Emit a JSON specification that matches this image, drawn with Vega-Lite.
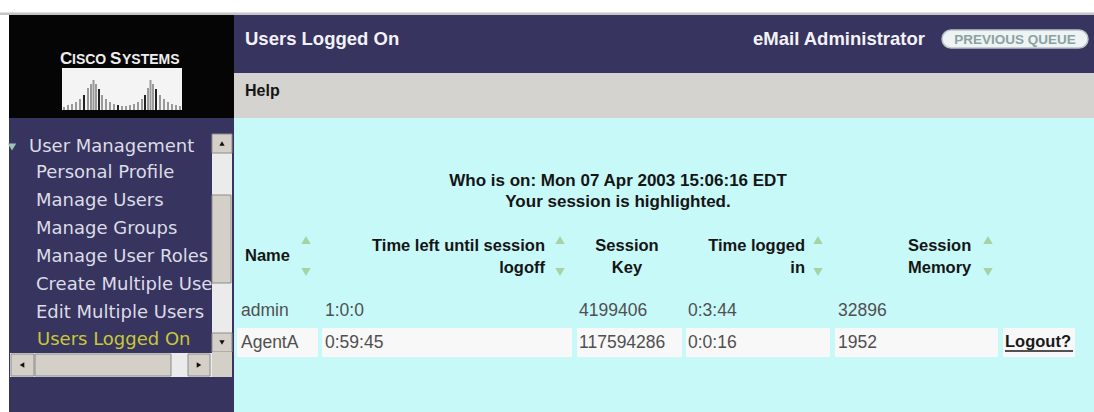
{
  "$schema": "https://vega.github.io/schema/vega-lite/v6.json",
  "width": 1094,
  "height": 412,
  "autosize": {"type": "fit", "contains": "padding"},
  "padding": 0,
  "background": "#ffffff",
  "config": {"view": {"stroke": null}},
  "datasets": {
    "panels": [
      {"part": "line", "x": 0, "x2": 1094, "y": 12.5, "y2": 15},
      {"part": "logo", "x": 9, "x2": 234, "y": 15, "y2": 118},
      {"part": "nav", "x": 9, "x2": 234, "y": 118, "y2": 412},
      {"part": "header", "x": 234, "x2": 1094, "y": 15, "y2": 73},
      {"part": "toolbar", "x": 234, "x2": 1094, "y": 73, "y2": 118},
      {"part": "content", "x": 234, "x2": 1094, "y": 118, "y2": 412},
      {"part": "logobox", "x": 62, "x2": 182, "y": 68, "y2": 110},
      {"part": "cell", "x": 237, "x2": 318, "y": 328, "y2": 357},
      {"part": "cell", "x": 322, "x2": 572, "y": 328, "y2": 357},
      {"part": "cell", "x": 577, "x2": 682, "y": 328, "y2": 357},
      {"part": "cell", "x": 686, "x2": 830, "y": 328, "y2": 357},
      {"part": "cell", "x": 835, "x2": 998, "y": 328, "y2": 357},
      {"part": "cell", "x": 1003, "x2": 1075, "y": 328, "y2": 357}
    ],
    "scrollbars": [
      {"part": "track", "x": 212, "x2": 232, "y": 134, "y2": 352},
      {"part": "button", "x": 212, "x2": 232, "y": 134, "y2": 153},
      {"part": "button", "x": 212, "x2": 232, "y": 333, "y2": 352},
      {"part": "thumb", "x": 212, "x2": 231, "y": 195, "y2": 283},
      {"part": "track", "x": 10, "x2": 212, "y": 353, "y2": 377},
      {"part": "button", "x": 11, "x2": 34, "y": 354, "y2": 376},
      {"part": "thumb", "x": 35, "x2": 171, "y": 354, "y2": 376},
      {"part": "button", "x": 188, "x2": 210, "y": 354, "y2": 376},
      {"part": "corner", "x": 212, "x2": 232, "y": 352, "y2": 377}
    ],
    "logobars": [
      {"x": 64, "y": 107, "y2": 110, "tone": "light"},
      {"x": 68, "y": 105, "y2": 110, "tone": "light"},
      {"x": 72, "y": 104, "y2": 110, "tone": "light"},
      {"x": 76, "y": 102, "y2": 110, "tone": "light"},
      {"x": 80, "y": 99, "y2": 110, "tone": "light"},
      {"x": 84, "y": 95, "y2": 110, "tone": "dark"},
      {"x": 88, "y": 88, "y2": 110, "tone": "light"},
      {"x": 91, "y": 84, "y2": 110, "tone": "light"},
      {"x": 93.5, "y": 80, "y2": 110, "tone": "light"},
      {"x": 96, "y": 84, "y2": 110, "tone": "light"},
      {"x": 99, "y": 89, "y2": 110, "tone": "dark"},
      {"x": 102, "y": 95, "y2": 110, "tone": "light"},
      {"x": 106, "y": 99, "y2": 110, "tone": "light"},
      {"x": 110, "y": 102, "y2": 110, "tone": "light"},
      {"x": 114, "y": 104, "y2": 110, "tone": "light"},
      {"x": 118, "y": 105, "y2": 110, "tone": "dark"},
      {"x": 122, "y": 106, "y2": 110, "tone": "light"},
      {"x": 126, "y": 106, "y2": 110, "tone": "light"},
      {"x": 130, "y": 105, "y2": 110, "tone": "light"},
      {"x": 134, "y": 104, "y2": 110, "tone": "light"},
      {"x": 138, "y": 102, "y2": 110, "tone": "light"},
      {"x": 142, "y": 99, "y2": 110, "tone": "light"},
      {"x": 145, "y": 95, "y2": 110, "tone": "dark"},
      {"x": 148, "y": 88, "y2": 110, "tone": "light"},
      {"x": 150.5, "y": 80, "y2": 110, "tone": "light"},
      {"x": 153, "y": 84, "y2": 110, "tone": "light"},
      {"x": 156, "y": 89, "y2": 110, "tone": "dark"},
      {"x": 160, "y": 95, "y2": 110, "tone": "light"},
      {"x": 164, "y": 99, "y2": 110, "tone": "light"},
      {"x": 168, "y": 102, "y2": 110, "tone": "light"},
      {"x": 172, "y": 104, "y2": 110, "tone": "light"},
      {"x": 176, "y": 105, "y2": 110, "tone": "light"},
      {"x": 180, "y": 106, "y2": 110, "tone": "light"}
    ],
    "logoBig": [
      {"label": "C", "x": 60, "y": 63.5},
      {"label": "S", "x": 110, "y": 63.5}
    ],
    "logoSmall": [
      {"label": "ISCO", "x": 72, "y": 63.5},
      {"label": "YSTEMS", "x": 122, "y": 63.5}
    ],
    "pill": [
      {"label": "PREVIOUS QUEUE", "x": 942, "x2": 1088, "y": 30, "y2": 48, "cx": 1015, "cy": 39.5}
    ],
    "titles": [
      {"label": "Users Logged On", "x": 245, "y": 39},
      {"label": "eMail Administrator", "x": 753, "y": 39}
    ],
    "toolbar": [
      {"label": "Help", "x": 245, "y": 91}
    ],
    "navTriangle": [
      {"x": 12, "y": 147}
    ],
    "menu": [
      {"label": "User Management", "x": 29, "y": 147, "state": "group"},
      {"label": "Personal Profile", "x": 36, "y": 173, "state": "item"},
      {"label": "Manage Users", "x": 36, "y": 200.5, "state": "item"},
      {"label": "Manage Groups", "x": 36, "y": 229, "state": "item"},
      {"label": "Manage User Roles", "x": 36, "y": 257, "state": "item"},
      {"label": "Create Multiple Users", "x": 36, "y": 285, "state": "item"},
      {"label": "Edit Multiple Users", "x": 36, "y": 313, "state": "item"},
      {"label": "Users Logged On", "x": 37, "y": 340, "state": "current"}
    ],
    "scrollArrows": [
      {"x": 222, "y": 143.5, "dir": "up"},
      {"x": 222, "y": 342.5, "dir": "down"},
      {"x": 22, "y": 365, "dir": "left"},
      {"x": 199, "y": 365, "dir": "right"}
    ],
    "caption": [
      {"label": "Who is on: Mon 07 Apr 2003 15:06:16 EDT", "x": 618, "y": 181},
      {"label": "Your session is highlighted.", "x": 618, "y": 202}
    ],
    "headLeft": [
      {"label": "Name", "x": 245, "y": 256},
      {"label": "Session", "x": 908, "y": 246},
      {"label": "Memory", "x": 908, "y": 268}
    ],
    "headRight": [
      {"label": "Time left until session", "x": 545, "y": 246},
      {"label": "logoff", "x": 545, "y": 268},
      {"label": "Time logged", "x": 805, "y": 246},
      {"label": "in", "x": 805, "y": 268}
    ],
    "headCenter": [
      {"label": "Session", "x": 627, "y": 246},
      {"label": "Key", "x": 627, "y": 268}
    ],
    "sortArrows": [
      {"x": 306, "y": 240, "dir": "up"},
      {"x": 306, "y": 272, "dir": "down"},
      {"x": 560, "y": 240, "dir": "up"},
      {"x": 560, "y": 272, "dir": "down"},
      {"x": 818, "y": 240, "dir": "up"},
      {"x": 818, "y": 272, "dir": "down"},
      {"x": 988, "y": 240, "dir": "up"},
      {"x": 988, "y": 272, "dir": "down"}
    ],
    "cells": [
      {"column": "Name", "session": "admin", "label": "admin", "x": 241, "y": 311},
      {"column": "Time left until session logoff", "session": "admin", "label": "1:0:0", "x": 325, "y": 311},
      {"column": "Session Key", "session": "admin", "label": "4199406", "x": 579, "y": 311},
      {"column": "Time logged in", "session": "admin", "label": "0:3:44", "x": 688, "y": 311},
      {"column": "Session Memory", "session": "admin", "label": "32896", "x": 838, "y": 311},
      {"column": "Name", "session": "AgentA", "label": "AgentA", "x": 241, "y": 343},
      {"column": "Time left until session logoff", "session": "AgentA", "label": "0:59:45", "x": 325, "y": 343},
      {"column": "Session Key", "session": "AgentA", "label": "117594286", "x": 579, "y": 343},
      {"column": "Time logged in", "session": "AgentA", "label": "0:0:16", "x": 688, "y": 343},
      {"column": "Session Memory", "session": "AgentA", "label": "1952", "x": 838, "y": 343}
    ],
    "logout": [
      {"label": "Logout?", "x": 1005, "x2": 1073, "y": 342, "uy": 351}
    ]
  },
  "encoding": {
    "x": {"field": "x", "type": "quantitative", "scale": {"domain": [0, 1094], "nice": false, "zero": false}, "axis": null},
    "y": {"field": "y", "type": "quantitative", "scale": {"domain": [0, 412], "reverse": true, "nice": false, "zero": false}, "axis": null}
  },
  "layer": [
    {
      "data": {"name": "panels"},
      "mark": {"type": "rect"},
      "encoding": {
        "x2": {"field": "x2"},
        "y2": {"field": "y2"},
        "color": {
          "field": "part", "type": "nominal", "legend": null,
          "scale": {
            "domain": ["line", "logo", "nav", "header", "toolbar", "content", "logobox", "cell", "track", "button", "thumb", "corner"],
            "range": ["#c4c4c4", "#050505", "#37345f", "#37345f", "#d4d3cf", "#c8f9f9", "#f4f4f4", "#f8f8f8", "#ebebeb", "#d4d0c8", "#d4d0c8", "#d4d0c8"]
          }
        }
      }
    },
    {
      "data": {"name": "logobars"},
      "mark": {"type": "rule", "strokeWidth": 2},
      "encoding": {
        "y2": {"field": "y2"},
        "color": {"condition": {"test": "datum.tone === 'dark'", "value": "#222222"}, "value": "#9a9a9a"}
      }
    },
    {
      "data": {"name": "logoBig"},
      "mark": {"type": "text", "font": "Liberation Sans", "fontWeight": "bold", "fontSize": 17, "align": "left", "baseline": "alphabetic", "color": "#eeeeee"},
      "encoding": {"text": {"field": "label"}}
    },
    {
      "data": {"name": "logoSmall"},
      "mark": {"type": "text", "font": "Liberation Sans", "fontWeight": "bold", "fontSize": 14, "align": "left", "baseline": "alphabetic", "color": "#eeeeee"},
      "encoding": {"text": {"field": "label"}}
    },
    {
      "data": {"name": "pill"},
      "mark": {"type": "rect", "cornerRadius": 9, "fill": "#eef3f3", "stroke": "#b8c4c4", "strokeWidth": 1.5},
      "encoding": {"x2": {"field": "x2"}, "y2": {"field": "y2"}}
    },
    {
      "data": {"name": "pill"},
      "mark": {"type": "text", "font": "Liberation Sans", "fontWeight": "bold", "fontSize": 13.5, "align": "center", "baseline": "middle", "color": "#8aa2a2"},
      "encoding": {"x": {"field": "cx", "type": "quantitative"}, "y": {"field": "cy", "type": "quantitative"}, "text": {"field": "label"}}
    },
    {
      "data": {"name": "titles"},
      "mark": {"type": "text", "font": "Liberation Sans", "fontWeight": "bold", "fontSize": 18.5, "align": "left", "baseline": "middle", "color": "#f2f2f6"},
      "encoding": {"text": {"field": "label"}}
    },
    {
      "data": {"name": "toolbar"},
      "mark": {"type": "text", "font": "Liberation Sans", "fontWeight": "bold", "fontSize": 16, "align": "left", "baseline": "middle", "color": "#151515"},
      "encoding": {"text": {"field": "label"}}
    },
    {
      "data": {"name": "navTriangle"},
      "mark": {"type": "point", "filled": true, "shape": "triangle-down", "size": 70, "color": "#9cc4b4", "opacity": 1},
      "encoding": {}
    },
    {
      "data": {"name": "menu"},
      "mark": {"type": "text", "font": "DejaVu Sans", "fontSize": 18, "align": "left", "baseline": "middle"},
      "encoding": {
        "text": {"field": "label"},
        "color": {"condition": {"test": "datum.state === 'current'", "value": "#c8c83a"}, "value": "#dcdce6"}
      }
    },
    {
      "data": {"name": "scrollbars"},
      "mark": {"type": "rect", "stroke": "#8c8c8c"},
      "encoding": {
        "x2": {"field": "x2"},
        "y2": {"field": "y2"},
        "strokeWidth": {"condition": {"test": "datum.part === 'track' || datum.part === 'corner'", "value": 0}, "value": 1},
        "color": {
          "field": "part", "type": "nominal", "legend": null,
          "scale": {
            "domain": ["line", "logo", "nav", "header", "toolbar", "content", "logobox", "cell", "track", "button", "thumb", "corner"],
            "range": ["#c4c4c4", "#050505", "#37345f", "#37345f", "#d4d3cf", "#c8f9f9", "#f4f4f4", "#f8f8f8", "#ebebeb", "#d4d0c8", "#d4d0c8", "#d4d0c8"]
          }
        }
      }
    },
    {
      "data": {"name": "scrollArrows"},
      "mark": {"type": "point", "filled": true, "size": 28, "color": "#111111", "opacity": 1},
      "encoding": {
        "shape": {
          "condition": [
            {"test": "datum.dir === 'up'", "value": "triangle-up"},
            {"test": "datum.dir === 'down'", "value": "triangle-down"},
            {"test": "datum.dir === 'left'", "value": "triangle-left"}
          ],
          "value": "triangle-right"
        }
      }
    },
    {
      "data": {"name": "caption"},
      "mark": {"type": "text", "font": "Liberation Sans", "fontWeight": "bold", "fontSize": 17, "align": "center", "baseline": "middle", "color": "#151515"},
      "encoding": {"text": {"field": "label"}}
    },
    {
      "data": {"name": "headLeft"},
      "mark": {"type": "text", "font": "Liberation Sans", "fontWeight": "bold", "fontSize": 16.5, "align": "left", "baseline": "middle", "color": "#151515"},
      "encoding": {"text": {"field": "label"}}
    },
    {
      "data": {"name": "headRight"},
      "mark": {"type": "text", "font": "Liberation Sans", "fontWeight": "bold", "fontSize": 16.5, "align": "right", "baseline": "middle", "color": "#151515"},
      "encoding": {"text": {"field": "label"}}
    },
    {
      "data": {"name": "headCenter"},
      "mark": {"type": "text", "font": "Liberation Sans", "fontWeight": "bold", "fontSize": 16.5, "align": "center", "baseline": "middle", "color": "#151515"},
      "encoding": {"text": {"field": "label"}}
    },
    {
      "data": {"name": "sortArrows"},
      "mark": {"type": "point", "filled": true, "size": 90, "color": "#a6d2a6", "opacity": 1},
      "encoding": {
        "shape": {"condition": {"test": "datum.dir === 'up'", "value": "triangle-up"}, "value": "triangle-down"}
      }
    },
    {
      "data": {"name": "cells"},
      "mark": {"type": "text", "font": "Liberation Sans", "fontSize": 17.5, "align": "left", "baseline": "middle", "color": "#505050"},
      "encoding": {"text": {"field": "label"}}
    },
    {
      "data": {"name": "logout"},
      "mark": {"type": "text", "font": "Liberation Sans", "fontWeight": "bold", "fontSize": 16.5, "align": "left", "baseline": "middle", "color": "#1a1a1a"},
      "encoding": {"text": {"field": "label"}}
    },
    {
      "data": {"name": "logout"},
      "mark": {"type": "rule", "strokeWidth": 1.5, "color": "#1a1a1a"},
      "encoding": {"x2": {"field": "x2"}, "y": {"field": "uy", "type": "quantitative"}}
    }
  ]
}
